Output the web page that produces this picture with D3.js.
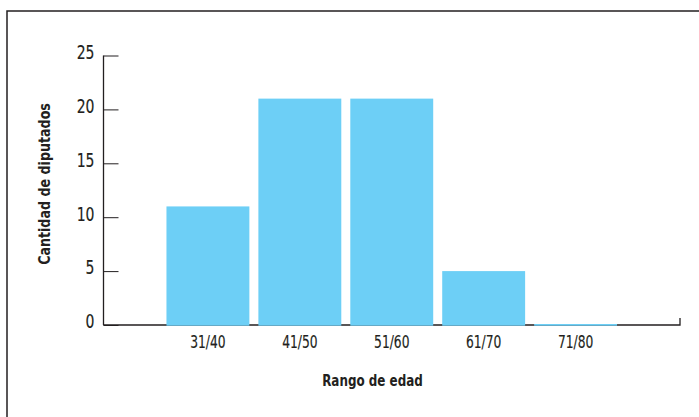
<!DOCTYPE html>
<meta charset="utf-8">
<script src="https://d3js.org/d3.v7.min.js"></script>
<style>
  body { margin: 0; background: #fff; }
  text { font-family: "DejaVu Sans Condensed", "Liberation Sans Narrow", sans-serif; fill: #231f20; }
  .thick { stroke: #231f20; stroke-width: 0.15px; }
</style>
<div id="chart"></div>
<script>
  // data
  let rangos = ["31/40", "41/50", "51/60", "61/70", "71/80"];
  let diputados = [11, 21, 21, 5, 0];
  let yTicks = [0, 5, 10, 15, 20, 25];

  let W = 699, H = 417;
  let svg = d3.select("#chart").append("svg")
    .attr("width", W).attr("height", H);

  // frame (top and left edges only are visible)
  svg.append("path")
    .attr("d", "M7,420 V11 H700")
    .attr("fill", "none")
    .attr("stroke", "#231f20")
    .attr("stroke-width", 1.5);

  let x = d3.scaleBand()
    .domain(rangos)
    .range([103.5, 680])
    .paddingInner(0.098)
    .paddingOuter(0.685);

  let y = d3.scaleLinear()
    .domain([0, 25])
    .range([325, 55.5]);

  // x axis baseline with closing tick (drawn under the bars)
  svg.append("path")
    .attr("d", "M103.5," + y(0) + "H680V" + (y(0) - 7))
    .attr("fill", "none")
    .attr("stroke", "#231f20")
    .attr("stroke-width", 1.3);

  // bars
  svg.append("g").selectAll("rect")
    .data(diputados)
    .enter().append("rect")
    .attr("x", (d, i) => x(rangos[i]))
    .attr("width", x.bandwidth())
    .attr("y", d => d > 0 ? y(d) : y(0) - 1)
    .attr("height", d => d > 0 ? y(0) - y(d) + 0.7 : 1.7)
    .attr("fill", "#6dcff6");

  // y axis
  let yAxis = svg.append("g")
    .attr("transform", "translate(103.5,0)")
    .call(d3.axisRight(y).tickValues(yTicks).tickSize(15).tickFormat(d3.format("d")));
  yAxis.select(".domain").attr("d", "M0," + y(25) + "V" + y(0)).attr("stroke", "#231f20").attr("stroke-width", 1.3);
  yAxis.selectAll(".tick line").attr("stroke", "#231f20").attr("stroke-width", 1);
  yAxis.selectAll(".tick text")
    .attr("class", "thick")
    .attr("x", 0)
    .attr("transform", "translate(-9,0) scale(0.82,1)")
    .attr("text-anchor", "end")
    .attr("dy", "0.15em")
    .style("font-size", "19px");

  let xLabels = svg.append("g")
    .attr("transform", "translate(0," + y(0) + ")")
    .call(d3.axisBottom(x).tickSize(0).tickPadding(11));
  xLabels.select(".domain").remove();
  xLabels.selectAll(".tick text")
    .attr("class", "thick")
    .attr("dy", "0.71em")
    .attr("transform", "scale(0.78,1)")
    .style("font-size", "17.5px");

  // axis titles
  svg.append("text")
    .attr("transform", "translate(372.5,386) scale(0.83,1)")
    .attr("text-anchor", "middle")
    .style("font-size", "16px")
    .style("font-weight", "bold")
    .text("Rango de edad");

  svg.append("text")
    .attr("transform", "translate(50,184) rotate(-90) scale(0.88,1)")
    .attr("text-anchor", "middle")
    .style("font-size", "16px")
    .style("font-weight", "bold")
    .text("Cantidad de diputados");
</script>
